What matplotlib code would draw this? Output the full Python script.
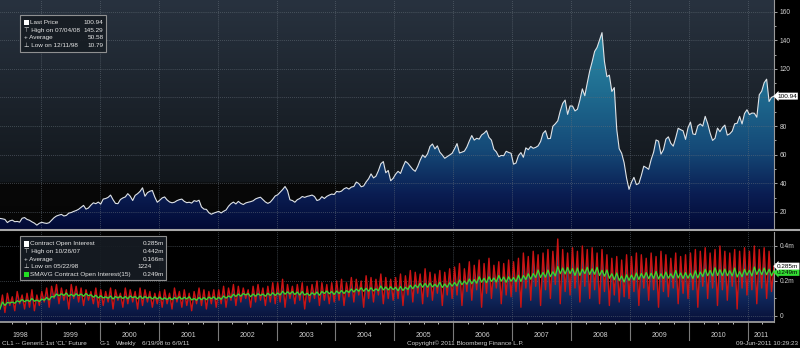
import numpy as np
import pandas as pd
import matplotlib
matplotlib.use("Agg")
import matplotlib.pyplot as plt
import matplotlib.transforms as mtransforms
from matplotlib.colors import LinearSegmentedColormap
from matplotlib.patches import Rectangle
from matplotlib.lines import Line2D

plt.rcParams['font.family'] = ['Liberation Sans', 'DejaVu Sans']

# CL1 weekly at about two points per month (late Apr 1998 .. Jun 2011)
price = [
    # 1998
    15.5, 15.2, 14.8, 12.6, 13.8, 14.3, 13.2, 13.4, 12.9, 15.6, 16.1, 14.8, 14.2, 13.1, 12.2, 10.8, 12.1,
    # 1999
    12.8, 12.3, 12.0, 12.5, 14.2, 16.0, 17.2, 17.8, 18.3, 17.2, 17.6, 19.2, 19.6, 20.4, 21.0, 21.9, 23.3, 24.6, 22.0, 22.8, 24.8, 26.4, 25.8, 26.9,
    # 2000
    25.5, 29.0, 29.4, 30.2, 31.8, 28.6, 26.0, 25.8, 28.7, 29.8, 30.5, 32.8, 31.0, 28.0, 31.6, 32.8, 34.4, 36.9, 31.0, 33.5, 34.5, 35.0, 30.4, 26.8,
    # 2001
    28.2, 29.8, 30.5, 28.4, 27.0, 26.4, 26.8, 27.9, 28.6, 29.0, 27.4, 26.5, 26.8, 26.2, 27.9, 27.4, 28.2, 23.5, 22.0, 21.8, 19.5, 18.4, 19.2, 19.8,
    # 2002
    20.4, 19.3, 20.5, 21.4, 24.0, 25.8, 26.9, 25.6, 27.4, 26.0, 25.2, 26.3, 26.8, 27.2, 27.8, 29.1, 29.8, 30.3, 28.7, 27.0, 26.0, 26.9, 28.9, 31.2,
    # 2003
    32.0, 33.8, 35.6, 37.8, 35.0, 28.5, 28.0, 26.8, 28.6, 29.4, 30.8, 30.2, 30.9, 31.3, 31.8, 30.8, 28.0, 28.6, 30.7, 29.4, 30.9, 31.8, 32.5, 32.2,
    # 2004
    34.4, 34.0, 34.6, 36.2, 37.0, 36.0, 37.4, 37.8, 40.9, 39.9, 37.6, 38.2, 41.0, 43.2, 46.6, 43.8, 45.0, 48.8, 53.7, 55.2, 47.4, 49.0, 41.8, 43.5,
    # 2005
    46.4, 48.4, 46.9, 51.5, 55.4, 54.0, 51.8, 49.7, 48.4, 51.8, 56.2, 59.8, 58.1, 60.6, 65.8, 67.5, 64.1, 66.2, 61.8, 59.8, 57.5, 58.7, 59.8, 61.0,
    # 2006
    64.2, 67.8, 61.2, 61.8, 62.5, 65.4, 69.6, 73.4, 70.2, 71.5, 70.9, 73.8, 75.0, 76.8, 72.1, 70.2, 63.8, 62.0, 58.6, 59.5, 59.3, 62.4, 61.6, 61.0,
    # 2007
    53.4, 54.2, 59.4, 61.5, 58.2, 64.8, 63.5, 65.8, 64.5, 65.1, 66.2, 69.2, 74.9, 76.8, 71.2, 71.4, 79.9, 81.6, 83.7, 90.5, 95.9, 98.2, 88.2, 94.1,
    # 2008
    94.0, 90.6, 91.8, 98.2, 106.0, 101.2, 110.1, 118.5, 125.0, 132.2, 135.0, 140.2, 145.3, 125.1, 114.5, 115.6, 104.2, 106.9, 77.7, 64.2, 61.0, 54.4, 43.7, 35.8,
    # 2009
    40.8, 44.2, 39.1, 39.9, 45.5, 52.0, 51.0, 49.8, 56.6, 61.7, 70.3, 69.5, 60.4, 63.5, 70.9, 72.5, 68.0, 66.0, 71.8, 78.5, 77.5, 76.7, 70.7, 78.8,
    # 2010
    82.8, 74.5, 74.1, 80.2, 81.5, 80.0, 86.8, 81.8, 75.1, 70.0, 71.5, 78.6, 76.1, 78.9, 80.7, 73.7, 74.6, 76.5, 81.6, 82.0, 86.8, 81.5, 88.8, 91.4,
    # 2011
    88.0, 89.1, 89.0, 86.2, 101.9, 104.4, 110.3, 112.8, 97.2, 100.1, 100.94,
]

# contract open interest (millions): monthly highs and lows of the saw-tooth
oi_hi = [
    0.12, 0.13, 0.11, 0.14, 0.12, 0.13, 0.15, 0.12,
    0.14, 0.16, 0.17, 0.18, 0.16, 0.15, 0.18, 0.17, 0.16, 0.15, 0.14, 0.16,
    0.15, 0.14, 0.16, 0.15, 0.13, 0.16, 0.15, 0.14, 0.16, 0.15, 0.14, 0.13,
    0.14, 0.15, 0.13, 0.16, 0.14, 0.15, 0.13, 0.14, 0.16, 0.15, 0.14, 0.15,
    0.15, 0.17, 0.16, 0.18, 0.17, 0.16, 0.15, 0.17, 0.18, 0.16, 0.17, 0.19,
    0.19, 0.21, 0.18, 0.17, 0.18, 0.19, 0.17, 0.18, 0.20, 0.19, 0.18, 0.19,
    0.20, 0.21, 0.19, 0.22, 0.21, 0.20, 0.23, 0.22, 0.21, 0.24, 0.22, 0.21,
    0.22, 0.24, 0.23, 0.26, 0.25, 0.24, 0.27, 0.25, 0.24, 0.26, 0.25, 0.27,
    0.28, 0.30, 0.27, 0.31, 0.29, 0.32, 0.30, 0.33, 0.29, 0.31, 0.30, 0.32,
    0.31, 0.33, 0.36, 0.34, 0.37, 0.35, 0.36, 0.38, 0.37, 0.44, 0.38, 0.36,
    0.39, 0.37, 0.40, 0.38, 0.39, 0.36, 0.38, 0.35, 0.33, 0.34, 0.32, 0.35,
    0.34, 0.36, 0.35, 0.33, 0.36, 0.34, 0.37, 0.35, 0.33, 0.36, 0.34, 0.35,
    0.36, 0.38, 0.37, 0.39, 0.36, 0.38, 0.40, 0.37, 0.36, 0.38, 0.37, 0.39,
    0.37, 0.40, 0.38, 0.39, 0.37, 0.285,
]
oi_lo = [
    0.04, 0.02, 0.06, 0.03, 0.07, 0.04, 0.05, 0.03, 0.06,
    0.08, 0.05, 0.10, 0.07, 0.09, 0.04, 0.10, 0.08, 0.06, 0.09, 0.07, 0.05,
    0.06, 0.08, 0.04, 0.09, 0.05, 0.07, 0.08, 0.04, 0.06, 0.08, 0.05, 0.07,
    0.05, 0.07, 0.04, 0.08, 0.05, 0.06, 0.03, 0.07, 0.06, 0.04, 0.07, 0.05,
    0.07, 0.05, 0.09, 0.06, 0.08, 0.10, 0.05, 0.08, 0.09, 0.06, 0.08, 0.07,
    0.08, 0.05, 0.10, 0.07, 0.09, 0.04, 0.08, 0.10, 0.06, 0.09, 0.07, 0.08,
    0.09, 0.06, 0.11, 0.08, 0.12, 0.05, 0.10, 0.08, 0.12, 0.07, 0.10, 0.09,
    0.10, 0.06, 0.12, 0.08, 0.13, 0.07, 0.11, 0.09, 0.13, 0.06, 0.12, 0.10,
    0.12, 0.06, 0.14, 0.09, 0.15, 0.05, 0.13, 0.10, 0.16, 0.07, 0.12, 0.11,
    0.14, 0.05, 0.16, 0.09, 0.17, 0.06, 0.15, 0.10, 0.18, 0.07, 0.14, 0.12,
    0.16, 0.08, 0.17, 0.10, 0.15, 0.07, 0.14, 0.06, 0.12, 0.08, 0.11, 0.10,
    0.14, 0.06, 0.16, 0.09, 0.15, 0.05, 0.14, 0.11, 0.16, 0.07, 0.13, 0.10,
    0.15, 0.05, 0.17, 0.10, 0.16, 0.06, 0.15, 0.09, 0.17, 0.04, 0.16, 0.12,
    0.15, 0.07, 0.16, 0.10, 0.14,
]

years = list(range(1998, 2012))
price_legend = [("Last Price", "100.94"), ("\u22a4 High on 07/04/08", "145.29"),
                ("+ Average", "50.58"), ("\u22a5 Low on 12/11/98", "10.79")]
oi_legend = [("Contract Open Interest", "0.285m"), ("\u22a4 High on 10/26/07", "0.442m"),
             ("+ Average", "0.166m"), ("\u22a5 Low on 05/22/98", "1224"),
             ("SMAVG Contract Open Interest(15)", "0.249m")]
last_price = 100.94
last_oi = 0.285
last_smavg = 0.249

W, H = 800, 348
X0, X1 = 1998.304, 2011.447


def fx(px):
    return px / W


def fy(py):
    return 1 - py / H


fig = plt.figure(figsize=(8, 3.48), dpi=100, facecolor="black")
ax1 = fig.add_axes([0, fy(229), fx(774), fy(0) - fy(229)])
ax2 = fig.add_axes([0, fy(322), fx(774), fy(232) - fy(322)])

Y1 = (8.1, 168.1)
Y2 = (-0.0343, 0.48)
grid_kw = dict(color="#66707a", lw=0.5, ls=(0, (1, 1.8)))
ramp = np.linspace(0, 1, 512).reshape(-1, 1)

# ---- price panel
bg = LinearSegmentedColormap.from_list("bg", [(0, "#060606"), (0.2, "#080808"),
                                              (0.204, "#12171c"), (1, "#28323f")])
ax1.imshow(ramp, cmap=bg, extent=[X0, X1, Y1[0], Y1[1]], origin="lower", aspect="auto", zorder=0)

xp = np.linspace(X0, X1, len(price))
poly = ax1.fill_between(xp, price, 0, facecolor="none", edgecolor="none")
fill1 = LinearSegmentedColormap.from_list("f1", [(0, "#020a35"), (0.15, "#0a1d52"), (0.35, "#154a78"),
                                                 (0.6, "#1f6c90"), (0.85, "#2c8aa6"), (1, "#3398b0")])
im = ax1.imshow(ramp, cmap=fill1, extent=[X0, X1, Y1[0], Y1[1]], origin="lower", aspect="auto", zorder=1)
im.set_clip_path(poly.get_paths()[0], transform=ax1.transData)

for v in range(20, 161, 20):
    ax1.axhline(v, zorder=2, **grid_kw)
for yr in years[1:]:
    ax1.axvline(yr, zorder=2, **grid_kw)
ax1.plot(xp, price, color="#dfe3e7", lw=0.8, zorder=3)

ax1.set_xlim(X0, X1)
ax1.set_ylim(*Y1)
ax1.set_xticks([])
ax1.yaxis.tick_right()
ax1.set_yticks(range(20, 161, 20))
# the 100 label sits under the last-price tag
ax1.set_yticklabels(["" if v == 100 else str(v) for v in range(20, 161, 20)])
ax1.set_yticks(range(30, 160, 20), minor=True)
ax1.tick_params(axis="y", which="both", colors="#bbbbbb", labelcolor="#d0d0d0",
                labelsize=4.8, pad=1.5, width=0.6)
ax1.tick_params(axis="y", which="major", length=2.5)
ax1.tick_params(axis="y", which="minor", length=1.5)
for s in ["top", "left", "bottom"]:
    ax1.spines[s].set_visible(False)
ax1.spines["right"].set_color("#9a9a9a")
ax1.spines["right"].set_linewidth(0.8)

tr1 = mtransforms.blended_transform_factory(ax1.transAxes, ax1.transData)
ax1.text(1.004, last_price, f"{last_price:.2f}", transform=tr1, ha="left", va="center",
         fontsize=4.6, color="black", zorder=5, clip_on=False,
         bbox=dict(boxstyle="larrow,pad=0.15", fc="white", ec="none"))

# ---- open interest panel
ax2.set_facecolor("black")
oi = np.empty(len(oi_hi) + len(oi_lo))
oi[0::2] = oi_lo
oi[1::2] = oi_hi
xo = np.linspace(X0, X1, len(oi))
smavg = pd.Series(oi).rolling(7, min_periods=1).mean()

poly2 = ax2.fill_between(xo, oi, -0.1, facecolor="none", edgecolor="none")
fill2 = LinearSegmentedColormap.from_list("f2", [(0, "#06103a"), (0.07, "#0a1540"), (0.26, "#10275a"),
                                                 (0.45, "#1a4070"), (0.65, "#2a5a8a"), (1, "#3d75a5")])
im2 = ax2.imshow(ramp, cmap=fill2, extent=[X0, X1, Y2[0], Y2[1]], origin="lower", aspect="auto", zorder=1)
im2.set_clip_path(poly2.get_paths()[0], transform=ax2.transData)

for v in [0, 0.2, 0.4]:
    ax2.axhline(v, zorder=2, **grid_kw)
for yr in years[1:]:
    ax2.axvline(yr, zorder=2, **grid_kw)
ax2.plot(xo, oi, color="#cc1414", lw=1.0, zorder=3)
ax2.plot(xo, smavg, color="#33dd33", lw=0.9, zorder=4)

ax2.set_xlim(X0, X1)
ax2.set_ylim(*Y2)
ax2.yaxis.tick_right()
ax2.set_yticks([0, 0.2, 0.4])
ax2.set_yticklabels(["0", "0.2m", "0.4m"])
ax2.set_yticks([0.1, 0.3], minor=True)
ax2.tick_params(axis="y", which="both", colors="#bbbbbb", labelcolor="#d0d0d0",
                labelsize=4.8, pad=1.5, width=0.6)
ax2.tick_params(axis="y", which="major", length=2.5)
ax2.tick_params(axis="y", which="minor", length=1.5)
quarters = [q for q in np.arange(1998.25, 2011.5, 0.25) if X0 < q < X1]
ax2.set_xticks(quarters)
ax2.set_xticklabels([])
ax2.tick_params(axis="x", colors="#dddddd", length=1.5, width=0.6)
ax2.spines["top"].set_visible(False)
ax2.spines["left"].set_visible(False)
ax2.spines["right"].set_color("#9a9a9a")
ax2.spines["right"].set_linewidth(0.8)
ax2.spines["bottom"].set_color("#9a9a9a")
ax2.spines["bottom"].set_linewidth(1.3)

tr2 = mtransforms.blended_transform_factory(ax2.transAxes, ax2.transData)
ax2.text(1.004, last_smavg, f"{last_smavg:.3f}m", transform=tr2, ha="left", va="center",
         fontsize=4.6, color="black", zorder=5, clip_on=False,
         bbox=dict(boxstyle="larrow,pad=0.15", fc="#33dd33", ec="none"))
ax2.text(1.004, last_oi, f"{last_oi:.3f}m", transform=tr2, ha="left", va="center",
         fontsize=4.6, color="black", zorder=6, clip_on=False,
         bbox=dict(boxstyle="larrow,pad=0.15", fc="white", ec="none"))

# year axis under the lower panel
trx = mtransforms.blended_transform_factory(ax2.transData, ax2.transAxes)
for yr in years:
    if yr > X0:
        ax2.plot([yr, yr], [0, -0.2], transform=trx, clip_on=False, color="#7a7a7a", lw=0.8)
    c = (max(yr, X0) + min(yr + 1, X1)) / 2
    ax2.text(c, -0.145, str(yr), transform=trx, ha="center", va="center",
             fontsize=5, color="#cfcfcf", clip_on=False)

# panel separator
fig.add_artist(Line2D([0, 1], [fy(230), fy(230)], transform=fig.transFigure,
                      color="#a8a8a8", lw=1.5))

# legends
def legend_box(x0, y0, x1, y1, rows, value_x, row_y, square_colors, value_right=None):
    fig.add_artist(Rectangle((fx(x0), fy(y1)), fx(x1 - x0), (y1 - y0) / H, transform=fig.transFigure,
                             facecolor="#161c23", edgecolor="#9a9a9a", lw=0.8, alpha=0.92))
    for i, (label, val) in enumerate(rows):
        yy = fy(row_y[i])
        sq = square_colors.get(i)
        if sq:
            fig.add_artist(Rectangle((fx(23.5), yy - 2.8 / H), fx(5.5), 5.6 / H,
                                     transform=fig.transFigure, facecolor=sq, edgecolor="none"))
            fig.text(fx(30.5), yy, label, fontsize=4.6, color="#e6e6e6", va="center", ha="left")
        else:
            fig.text(fx(24.5), yy, label, fontsize=4.6, color="#e6e6e6", va="center", ha="left")
        vx = value_x
        if value_right and i in value_right:
            vx = value_right[i]
        fig.text(fx(vx), yy, val, fontsize=4.6, color="#e6e6e6", va="center", ha="right")


legend_box(20, 15, 106, 52, price_legend, 103.5, [22.3, 30, 37.7, 45.5], {0: "white"})
legend_box(20, 236, 166, 280, oi_legend, 164, [243.8, 251.5, 259.2, 266.8, 274.3],
           {0: "white", 4: "#22dd22"}, value_right={3: 152})

# footer
foot = dict(fontsize=4.6, color="#cfcfcf", va="center")
fig.text(fx(2), fy(343.5), "CL1 -- Generic 1st 'CL' Future", ha="left", **foot)
fig.text(fx(100), fy(343.5), "G-1", ha="left", **foot)
fig.text(fx(116), fy(343.5), "Weekly", ha="left", **foot)
fig.text(fx(142), fy(343.5), "6/19/98 to 6/9/11", ha="left", **foot)
fig.text(fx(407), fy(343.5), "Copyright\u00a9 2011 Bloomberg Finance L.P.", ha="left", **foot)
fig.text(fx(798), fy(343.5), "09-Jun-2011 10:29:23", ha="right", **foot)

fig.savefig("out.png", dpi=100, facecolor="black")
